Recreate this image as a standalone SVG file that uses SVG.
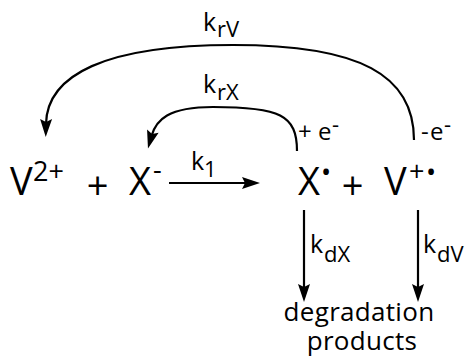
<svg xmlns="http://www.w3.org/2000/svg" width="465" height="358" viewBox="0 0 465 358">
  <style>
    text { font-family: "Open Sans", "Liberation Sans", sans-serif; fill: #000; }
    .big { font-size: 38px; }
    .lab { font-size: 25px; }
    .sub { font-size: 22px; }
    .sup { font-size: 27px; }
    .el { font-size: 24px; }
    .deg { font-size: 26px; text-anchor: middle; letter-spacing: 0.3px; }
    .con { fill: none; stroke: #000; stroke-width: 2.2; }
  </style>
  <defs>
    <marker id="ah" markerUnits="userSpaceOnUse" markerWidth="26" markerHeight="18" viewBox="-7 -9 26 18" refX="0" refY="0" orient="auto">
      <path d="M-5,-6 L13,0 L-5,6 L-2,0 Z" fill="#000"/>
    </marker>
  </defs>
  <rect width="465" height="358" fill="#fff"/>

  <g id="connectors">
    <path id="c-krV" class="con" d="M414,140 C414,75 360,45 233,45 C105,45 47,75 46,124" marker-end="url(#ah)"/>
    <path id="c-krX" class="con" d="M297,151 C297,115 280,107 213,107 C168,107 156,120 151.5,136" marker-end="url(#ah)"/>
    <path id="c-k1" class="con" d="M169,183 L247,183" marker-end="url(#ah)"/>
    <path id="c-kdX" class="con" d="M304,210 L304,289" marker-end="url(#ah)"/>
    <path id="c-kdV" class="con" d="M418,210 L418,289" marker-end="url(#ah)"/>
  </g>

  <g id="V2plus">
    <text><tspan class="big" x="10" y="195">V</tspan><tspan class="sup" x="33" y="181">2+</tspan></text>
  </g>
  <g id="plus1">
    <text class="big" x="97.5" y="199" text-anchor="middle">+</text>
  </g>
  <g id="Xminus">
    <text><tspan class="big" x="129" y="195">X</tspan><tspan class="sup" x="153" y="179">-</tspan></text>
  </g>
  <g id="Xdot">
    <text><tspan class="big" x="298" y="195">X</tspan><tspan class="sup" x="321" y="182">•</tspan></text>
  </g>
  <g id="plus2">
    <text class="big" x="352.5" y="199" text-anchor="middle">+</text>
  </g>
  <g id="Vplusdot">
    <text><tspan class="big" x="384" y="195">V</tspan><tspan class="sup" x="409" y="181">+</tspan><tspan class="sup" x="426" y="182">•</tspan></text>
  </g>
  <g id="degradation">
    <text class="deg"><tspan x="359" y="321">degradation</tspan><tspan x="362" y="350">products</tspan></text>
  </g>

  <g id="labels">
    <text><tspan class="lab" x="203" y="31">k</tspan><tspan class="sub" x="217" y="37">rV</tspan></text>
    <text><tspan class="lab" x="203" y="93">k</tspan><tspan class="sub" x="217" y="100">rX</tspan></text>
    <text><tspan class="lab" x="191" y="170">k</tspan><tspan class="sub" x="204" y="177">1</tspan></text>
    <text><tspan class="lab" x="310" y="253">k</tspan><tspan class="sub" x="324" y="262">dX</tspan></text>
    <text><tspan class="lab" x="423" y="253">k</tspan><tspan class="sub" x="437" y="262">dV</tspan></text>
    <text><tspan class="el" x="298" y="140">+</tspan><tspan class="el" x="318" y="140">e</tspan><tspan class="sub" x="332" y="132">-</tspan></text>
    <text><tspan class="el" x="421" y="140">-</tspan><tspan class="el" x="430" y="140">e</tspan><tspan class="sub" x="444" y="132">-</tspan></text>
  </g>
</svg>
